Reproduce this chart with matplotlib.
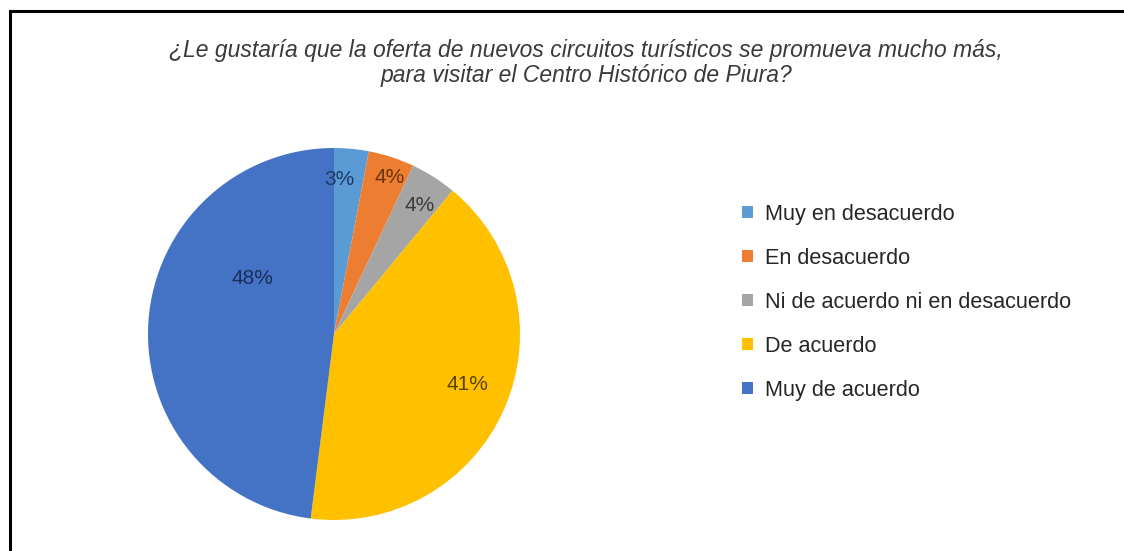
import matplotlib.pyplot as plt
from matplotlib.patches import Patch
from matplotlib.lines import Line2D

plt.rcParams['font.family'] = ['Liberation Sans', 'DejaVu Sans']

categorias = ['Muy en desacuerdo', 'En desacuerdo', 'Ni de acuerdo ni en desacuerdo',
              'De acuerdo', 'Muy de acuerdo']
porcentajes = [3, 4, 4, 41, 48]
colores = ['#5B9BD5', '#ED7D31', '#A5A5A5', '#FFC000', '#4472C4']
colores_texto = ['#1F3B63', '#6B3310', '#3A3A3A', '#5A4300', '#1A2E5C']
# posicion de cada etiqueta dentro del circulo (radio = 1)
pos_etiquetas = [(0.03, 0.83), (0.30, 0.84), (0.46, 0.69), (0.72, -0.27), (-0.44, 0.30)]

titulo = ('¿Le gustaría que la oferta de nuevos circuitos turísticos se promueva mucho más,\n'
          'para visitar el Centro Histórico de Piura?')

fig = plt.figure(figsize=(11.24, 5.51), dpi=100)
fig.patch.set_facecolor('white')

# marco del grafico (solo se ve arriba y a la izquierda)
fig.add_artist(Line2D([10 / 1124, 10 / 1124], [0, 1 - 11 / 551], color='black', lw=2.2,
                      transform=fig.transFigure))
fig.add_artist(Line2D([10 / 1124, 1], [1 - 11 / 551, 1 - 11 / 551], color='black', lw=2.2,
                      transform=fig.transFigure))

fig.text(586 / 1124, 1 - 63 / 551, titulo, ha='center', va='center', fontsize=16.5,
         style='italic', color='#3A3A3A', linespacing=1.12)

ax = fig.add_axes([(334 - 186) / 1124, (551 - 520) / 551, 372 / 1124, 372 / 551])
wedges, _ = ax.pie(porcentajes, colors=colores, startangle=90, counterclock=False,
                   radius=1, wedgeprops=dict(linewidth=0))
ax.set_xlim(-1, 1)
ax.set_ylim(-1, 1)
ax.set_aspect('auto')

for valor, (x, y), c in zip(porcentajes, pos_etiquetas, colores_texto):
    ax.text(x, y, f'{valor}%', ha='center', va='center', fontsize=15, color=c)

handles = [Patch(facecolor=c, edgecolor='none') for c in colores]
fig.legend(handles, categorias, loc='upper left', bbox_to_anchor=(731 / 1124, 1 - 193 / 551),
           frameon=False, fontsize=15.6, handlelength=0.5, handleheight=0.5,
           handletextpad=0.55, labelspacing=1.06, borderpad=0, labelcolor='#262626')

plt.savefig('out.png', dpi=100)
